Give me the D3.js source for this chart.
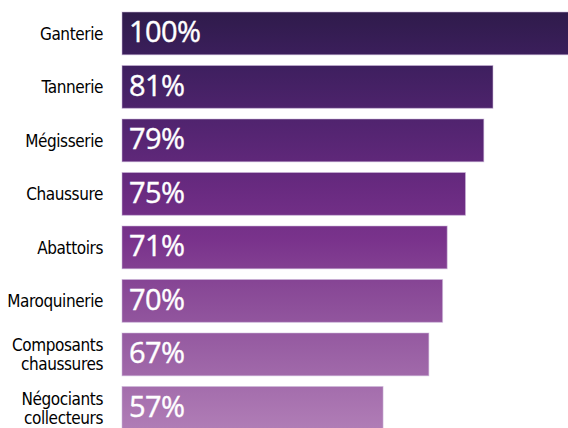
<!DOCTYPE html>
<html>
<head>
<meta charset="utf-8">
<script src="https://cdn.jsdelivr.net/npm/d3@7"></script>
<style>
  html, body { margin: 0; padding: 0; background: #fff; }
  svg { display: block; }
  .lab { font-family: 'DejaVu Sans', sans-serif; font-stretch: condensed; }
</style>
</head>
<body>
<svg id="chart" width="568" height="428"></svg>
<script>
const categories = [
  ["Ganterie"],
  ["Tannerie"],
  ["Mégisserie"],
  ["Chaussure"],
  ["Abattoirs"],
  ["Maroquinerie"],
  ["Composants", "chaussures"],
  ["Négociants", "collecteurs"]
];
const values = [100, 81, 79, 75, 71, 70, 67, 57];
const valueLabels = ["100%", "81%", "79%", "75%", "71%", "70%", "67%", "57%"];

const W = 568, H = 428;
const svg = d3.select("#chart");

const idx = d3.range(values.length);
const x = d3.scaleLinear().domain([0, 100]).range([122, 580]);
const y = d3.scaleBand().domain(idx).range([12, 429.3]).paddingInner(0.2).paddingOuter(0);

const defs = svg.append("defs");
const grad = defs.append("linearGradient")
  .attr("id", "g").attr("gradientUnits", "userSpaceOnUse")
  .attr("x1", 0).attr("y1", 12).attr("x2", 0).attr("y2", 429);
[[0, "#2f1b4b"], [0.12, "#3d1f5e"], [0.27, "#522470"], [0.42, "#682a80"],
 [0.55, "#7a338c"], [0.66, "#884896"], [0.8, "#985ea3"], [1, "#b07db6"]]
  .forEach(([o, c]) => grad.append("stop").attr("offset", o).attr("stop-color", c));

svg.append("g").selectAll("rect").data(idx).join("rect")
  .attr("x", x(0))
  .attr("y", i => y(i))
  .attr("width", i => x(values[i]) - x(0))
  .attr("height", y.bandwidth())
  .attr("fill", "url(#g)")
  .attr("stroke", "#cdb8da")
  .attr("stroke-opacity", 0.55)
  .attr("stroke-width", 1);

svg.append("g").selectAll("text").data(idx).join("text")
  .attr("x", x(0) + 7)
  .attr("y", i => y(i) + 30)
  .attr("fill", "#fff")
  .attr("stroke", "#fff")
  .attr("stroke-width", 0.4)
  .attr("font-family", "'Open Sans', 'Noto Sans', sans-serif")
  .attr("font-size", 29)
  .attr("letter-spacing", -0.6)
  .text(i => valueLabels[i]);

const lab = svg.append("g").selectAll("text").data(idx).join("text")
  .attr("class", "lab")
  .attr("text-anchor", "end")
  .attr("font-size", 17)
  .attr("letter-spacing", -0.4)
  .attr("fill", "#000");
lab.each(function(i) {
  const lines = categories[i];
  const c = y(i) + y.bandwidth() / 2;
  const t = d3.select(this);
  if (lines.length === 1) {
    t.append("tspan").attr("x", 103).attr("y", c + 6.3).text(lines[0]);
  } else {
    t.append("tspan").attr("x", 103).attr("y", c - 3).text(lines[0]);
    t.append("tspan").attr("x", 103).attr("y", c + 16).text(lines[1]);
  }
});
</script>
</body>
</html>
